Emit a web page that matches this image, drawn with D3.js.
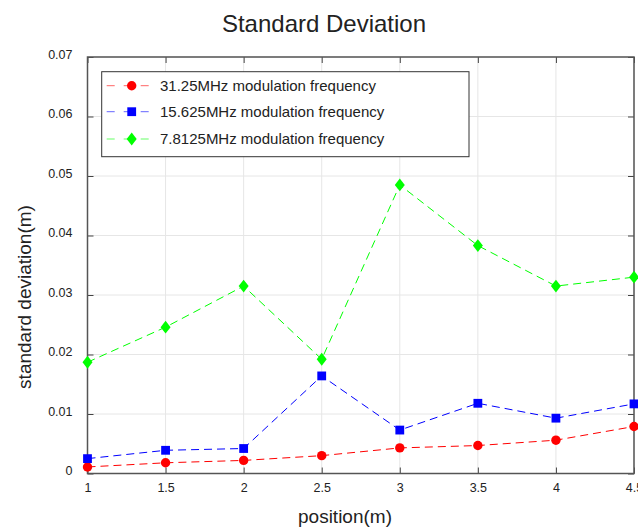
<!DOCTYPE html>
<html><head><meta charset="utf-8">
<script src="https://cdn.jsdelivr.net/npm/d3@7"></script>
<style>body{margin:0;background:#fff;} text{font-family:"Liberation Sans",Arial,sans-serif;fill:#222;}</style>
</head><body>
<svg id="c" width="638" height="529"></svg>
<script>
const positions = [1, 1.5, 2, 2.5, 3, 3.5, 4, 4.5];
const red31 = [0.0011, 0.0018, 0.0022, 0.0030, 0.0043, 0.0047, 0.0056, 0.0079];
const blue15 = [0.0025, 0.0039, 0.0042, 0.0164, 0.0073, 0.0118, 0.0093, 0.0117];
const green7 = [0.0187, 0.0246, 0.0315, 0.0192, 0.0485, 0.0383, 0.0315, 0.0330];
const seriesNames = ["31.25MHz modulation frequency", "15.625MHz modulation frequency", "7.8125MHz modulation frequency"];
const xTicks = [1, 1.5, 2, 2.5, 3, 3.5, 4, 4.5];
const xTickLabels = ["1", "1.5", "2", "2.5", "3", "3.5", "4", "4.5"];
const yTicks = [0, 0.01, 0.02, 0.03, 0.04, 0.05, 0.06, 0.07];
const yTickLabels = ["0", "0.01", "0.02", "0.03", "0.04", "0.05", "0.06", "0.07"];
const titleText = "Standard Deviation";
const xLabel = "position(m)";
const yLabel = "standard deviation(m)";

const series = [
  {name: seriesNames[0], values: red31, color: "#ff0000", marker: "circle"},
  {name: seriesNames[1], values: blue15, color: "#0000ff", marker: "square"},
  {name: seriesNames[2], values: green7, color: "#00ff00", marker: "diamond"}
];

const svg = d3.select("#c");
const L = 87.5, R = 634, T = 57, B = 473.5;
const x = d3.scaleLinear().domain([1, 4.5]).range([L, R]);
const y = d3.scaleLinear().domain([0, 0.07]).range([B, T]);

// grid
const g = svg.append("g");
g.selectAll(".vg").data(xTicks).join("line")
  .attr("x1", d => x(d)).attr("x2", d => x(d)).attr("y1", T).attr("y2", B)
  .attr("stroke", "#e6e6e6").attr("stroke-width", 1);
g.selectAll(".hg").data(yTicks).join("line")
  .attr("y1", d => y(d)).attr("y2", d => y(d)).attr("x1", L).attr("x2", R)
  .attr("stroke", "#e6e6e6").attr("stroke-width", 1);

// axes via d3 axis (inward ticks)
const tk = 6;
const axB = d3.axisBottom(x).tickValues(xTicks).tickSize(-tk).tickFormat((d,i) => xTickLabels[i]).tickPadding(10);
const axT = d3.axisTop(x).tickValues(xTicks).tickSize(-tk).tickFormat("");
const axLf = d3.axisLeft(y).tickValues(yTicks).tickSize(-tk).tickFormat((d,i) => yTickLabels[i]).tickPadding(20);
const axRt = d3.axisRight(y).tickValues(yTicks).tickSize(-tk).tickFormat("");

function style(sel){
  sel.selectAll(".domain").remove();
  sel.selectAll(".tick line").attr("stroke", "#444").attr("stroke-width", 1);
  sel.selectAll(".tick text").attr("font-size", "12.5px").attr("fill", "#222")
     .style("font-family", '"Liberation Sans",Arial,sans-serif');
}
const gB = svg.append("g").attr("transform", `translate(0,${B})`).call(axB); style(gB);
gB.selectAll(".tick text").attr("dy", "0").attr("y", 18);
svg.append("g").attr("transform", `translate(0,${T})`).call(axT).call(style);
const gL = svg.append("g").attr("transform", `translate(${L},0)`).call(axLf); style(gL);
gL.selectAll(".tick text").attr("dy", "0").attr("y", 1).attr("x", -15);
svg.append("g").attr("transform", `translate(${R},0)`).call(axRt).call(style);

// box
svg.append("rect").attr("x", L).attr("y", T).attr("width", R - L).attr("height", B - T)
  .attr("fill", "none").attr("stroke", "#555").attr("stroke-width", 1.5);

// lines
const line = d3.line().x((d,i) => x(positions[i])).y(d => y(d));
function drawMarker(sel, type, color, cx, cy){
  if (type === "circle") sel.append("circle").attr("cx", cx).attr("cy", cy).attr("r", 4.7).attr("fill", color);
  else if (type === "square") sel.append("rect").attr("x", cx - 4.4).attr("y", cy - 4.4).attr("width", 8.8).attr("height", 8.8).attr("fill", color);
  else sel.append("path").attr("d", `M${cx},${cy-6.4}L${cx+5},${cy}L${cx},${cy+6.4}L${cx-5},${cy}Z`).attr("fill", color);
}
const plot = svg.append("g");
series.forEach(s => {
  plot.append("path").attr("d", line(s.values)).attr("fill", "none")
    .attr("stroke", s.color).attr("stroke-width", 1).attr("stroke-dasharray", "8,5");
});
series.forEach(s => {
  const mg = plot.append("g");
  s.values.forEach((v,i) => drawMarker(mg, s.marker, s.color, x(positions[i]), y(v)));
});

// legend
const lg = svg.append("g");
lg.append("rect").attr("x", 101.7).attr("y", 71.7).attr("width", 367.3).attr("height", 85)
  .attr("fill", "#fff").attr("stroke", "#333").attr("stroke-width", 1);
const legY = [85.7, 111.7, 139];
series.forEach((s, i) => {
  const ly = legY[i];
  lg.append("line").attr("x1", 106.7).attr("x2", 155).attr("y1", ly).attr("y2", ly)
    .attr("stroke", s.color).attr("stroke-width", 1).attr("stroke-dasharray", "8,9").attr("opacity", 0.6);
  drawMarker(lg, s.marker, s.color, 131.7, ly);
  lg.append("text").attr("x", 160).attr("y", ly + 5).attr("font-size", "15px").text(s.name);
});

// titles
svg.append("text").attr("x", 324).attr("y", 32).attr("text-anchor", "middle").attr("font-size", "24px").attr("fill", "#111").text(titleText);
svg.append("text").attr("x", 345).attr("y", 523).attr("text-anchor", "middle").attr("font-size", "19px").text(xLabel);
svg.append("text").attr("transform", "translate(31,297) rotate(-90)").attr("text-anchor", "middle").attr("font-size", "19px").text(yLabel);
</script>
</body></html>
